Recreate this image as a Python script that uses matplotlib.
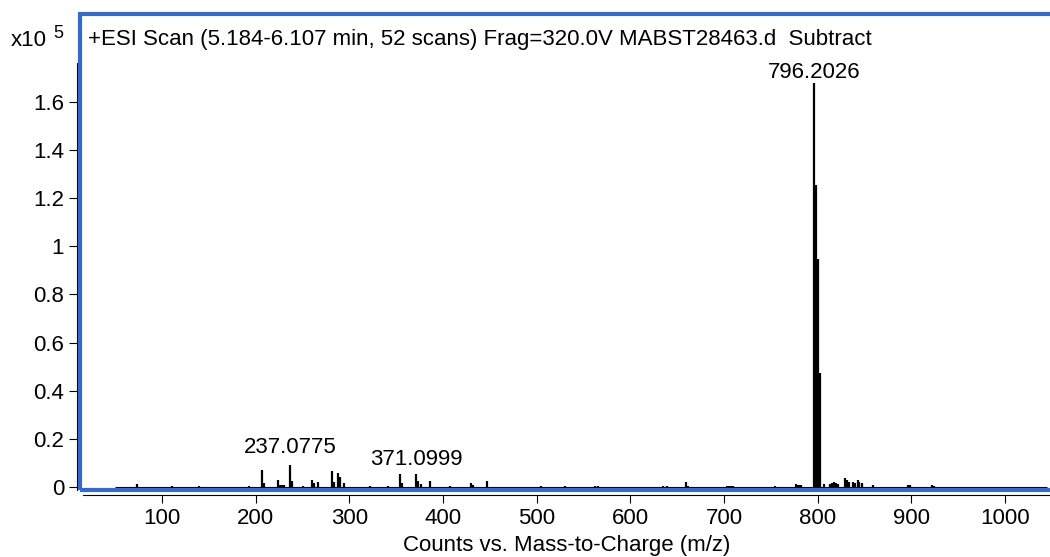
import matplotlib
matplotlib.use("Agg")
import matplotlib.pyplot as plt
from matplotlib.patches import Rectangle

plt.rcParams['font.family'] = ['Liberation Sans', 'DejaVu Sans']

# centroided peaks: m/z and counts (x10^5)
mz = [73.0, 111.0, 139.0, 192.5, 207.0, 209.0, 224.0, 226.0, 228.0, 230.0,
      237.0775, 239.0, 251.0, 260.0, 262.0, 266.5, 281.5, 283.5, 288.0, 290.5,
      294.5, 322.5, 341.0, 354.5, 356.5, 371.0999, 373.0, 376.0, 386.5, 407.5,
      429.5, 432.0, 446.5, 505.0, 530.0, 562.0, 566.0, 635.0, 639.0, 659.5,
      661.5, 703.5, 705.5, 707.5, 709.5, 754.0, 776.5, 778.5, 780.5, 782.5,
      796.2026, 798.2, 800.2, 802.2, 806.5, 813.5, 815.5, 817.5, 819.5, 821.5,
      829.5, 831.5, 833.5, 837.5, 839.5, 842.5, 844.5, 847.5, 859.5, 896.5,
      898.5, 922.5, 924.5]
counts = [0.012, 0.005, 0.005, 0.005, 0.070, 0.015, 0.030, 0.010, 0.010, 0.010,
          0.092, 0.025, 0.006, 0.030, 0.015, 0.020, 0.065, 0.020, 0.058, 0.040,
          0.015, 0.006, 0.006, 0.055, 0.015, 0.055, 0.025, 0.012, 0.025, 0.006,
          0.015, 0.008, 0.025, 0.005, 0.005, 0.005, 0.005, 0.006, 0.006, 0.022,
          0.006, 0.006, 0.006, 0.006, 0.006, 0.006, 0.012, 0.010, 0.010, 0.010,
          1.680, 1.255, 0.948, 0.474, 0.012, 0.012, 0.016, 0.020, 0.018, 0.012,
          0.038, 0.030, 0.022, 0.020, 0.018, 0.028, 0.022, 0.015, 0.008, 0.010,
          0.008, 0.010, 0.006]

labelled = [237.0775, 371.0999, 796.2026]
label_offsets = [5, 3, 0]

scan_title = "+ESI Scan (5.184-6.107 min, 52 scans) Frag=320.0V MABST28463.d  Subtract"
xticks = [100, 200, 300, 400, 500, 600, 700, 800, 900, 1000]
yticks = [0, 0.2, 0.4, 0.6, 0.8, 1.0, 1.2, 1.4, 1.6]
ytick_labels = ["0", "0.2", "0.4", "0.6", "0.8", "1", "1.2", "1.4", "1.6"]

fig = plt.figure(figsize=(10.5, 5.57), dpi=100)
ax = fig.add_axes([80.3 / 1050, 1 - 490 / 557, (1053 - 80.3) / 1050, (490 - 13.7) / 557])

ax.set_xlim(12.8, 1051.2)
ax.set_ylim(-0.0125, 1.967)

# spectrum baseline and sticks
ax.hlines(0, 50, 1045, color='black', lw=0.8)
ax.vlines(mz, 0, counts, color='black', lw=1.6)

for m, dy in zip(labelled, label_offsets):
    h = counts[mz.index(m)]
    ax.annotate(f"{m:.4f}", xy=(m, h), xytext=(0, dy), textcoords='offset points',
                ha='center', va='bottom', fontsize=16)

# plot frame in blue
ax.add_patch(Rectangle((0, 0), 1, 1, transform=ax.transAxes, fill=False,
                       edgecolor='#356bc8', lw=3, clip_on=False, zorder=5))

for s in ['top', 'right']:
    ax.spines[s].set_visible(False)
ax.spines['left'].set_position(('outward', 2.6))
ax.spines['bottom'].set_position(('outward', 3.6))
ax.spines['left'].set_bounds(-0.0125, 1.762)
ax.spines['bottom'].set_bounds(15.7, 1051.2)
for s in ['left', 'bottom']:
    ax.spines[s].set_linewidth(0.8)

ax.set_xticks(xticks)
ax.set_yticks(yticks)
ax.set_yticklabels(ytick_labels)
ax.tick_params(axis='both', length=6, width=0.8, labelsize=16, pad=3)

ax.text(0.008, 0.946, scan_title, transform=ax.transAxes, fontsize=16,
        ha='left', va='center')
fig.text(11 / 1050, 1 - 41 / 557, "x10", fontsize=16, ha='left', va='center')
fig.text(53 / 1050, 1 - 33 / 557, "5", fontsize=13, ha='left', va='center')

ax.set_xlabel("Counts vs. Mass-to-Charge (m/z)", fontsize=16, labelpad=5)

fig.savefig("out.png", dpi=100)
